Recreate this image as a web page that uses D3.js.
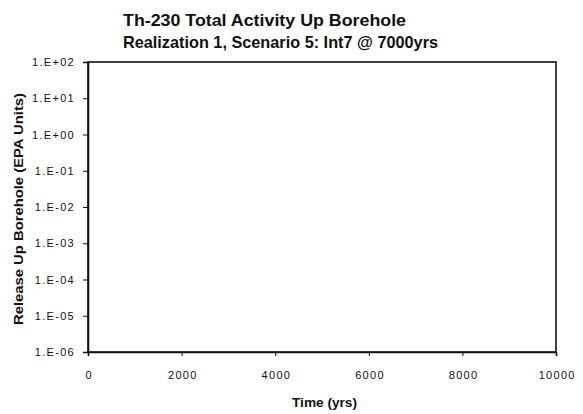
<!DOCTYPE html>
<html><head><meta charset="utf-8">
<script src="https://cdn.jsdelivr.net/npm/d3@7"></script>
<style>body{margin:0;background:#fff;} text{font-family:"Liberation Sans",Arial,sans-serif;fill:#111;}</style>
</head><body><svg id="c" width="583" height="414"></svg>
<script>
const titleLines = ["Th-230 Total Activity Up Borehole", "Realization 1, Scenario 5: Int7 @ 7000yrs"];
const xTicks = [0, 2000, 4000, 6000, 8000, 10000];
const yTicks = [1e2, 1e1, 1e0, 1e-1, 1e-2, 1e-3, 1e-4, 1e-5, 1e-6];
const yTickLabels = ["1.E+02","1.E+01","1.E+00","1.E-01","1.E-02","1.E-03","1.E-04","1.E-05","1.E-06"];
const seriesTime = [];   // no data plotted in reference
const seriesRelease = [];

const svg = d3.select("#c");
const m = {l: 88, t: 62, r: 556, b: 352};
const x = d3.scaleLinear().domain([0, 10000]).range([m.l, m.r]);
const y = d3.scaleLog().domain([1e-6, 1e2]).range([m.b, m.t]);

svg.append("rect").attr("x", m.l).attr("y", m.t).attr("width", m.r - m.l).attr("height", m.b - m.t)
  .attr("fill", "none").attr("stroke", "#111").attr("stroke-width", 1.6);

const ya = svg.append("g").attr("transform", `translate(${m.l},0)`)
  .call(d3.axisLeft(y).tickValues(yTicks).tickSize(5).tickPadding(8)
    .tickFormat((d, i) => yTickLabels[i]));
const xa = svg.append("g").attr("transform", `translate(0,${m.b})`)
  .call(d3.axisBottom(x).tickValues(xTicks).tickSize(4).tickPadding(15).tickFormat(d3.format("d")));
[ya, xa].forEach(g => {
  g.select(".domain").attr("stroke", "#111").attr("stroke-width", 1.6);
  g.selectAll(".tick line").attr("stroke", "#111");
  g.selectAll(".tick text").style("font-size", "11px").style("font-family", '"Liberation Sans",Arial,sans-serif')
    .attr("fill", "#111").attr("letter-spacing", "1.3px");
});
xa.selectAll(".tick text").attr("dx", "0.7px");

svg.append("g").selectAll("circle").data(seriesTime).join("circle")
  .attr("cx", d => x(d)).attr("cy", (d, i) => y(seriesRelease[i])).attr("r", 1.5);

svg.append("text").attr("x", 123).attr("y", 26).attr("font-size", 17).attr("font-weight", "bold")
  .attr("textLength", 283).attr("lengthAdjust", "spacingAndGlyphs").text(titleLines[0]);
svg.append("text").attr("x", 123).attr("y", 48).attr("font-size", 17).attr("font-weight", "bold")
  .attr("textLength", 315).attr("lengthAdjust", "spacingAndGlyphs").text(titleLines[1]);

svg.append("text").attr("x", 292).attr("y", 407)
  .attr("font-size", 12).attr("font-weight", "bold")
  .attr("textLength", 65).attr("lengthAdjust", "spacingAndGlyphs").text("Time (yrs)");
svg.append("text").attr("transform", "translate(23,325) rotate(-90)")
  .attr("font-size", 12).attr("font-weight", "bold")
  .attr("textLength", 232).attr("lengthAdjust", "spacingAndGlyphs").text("Release Up Borehole (EPA Units)");
</script></body></html>
